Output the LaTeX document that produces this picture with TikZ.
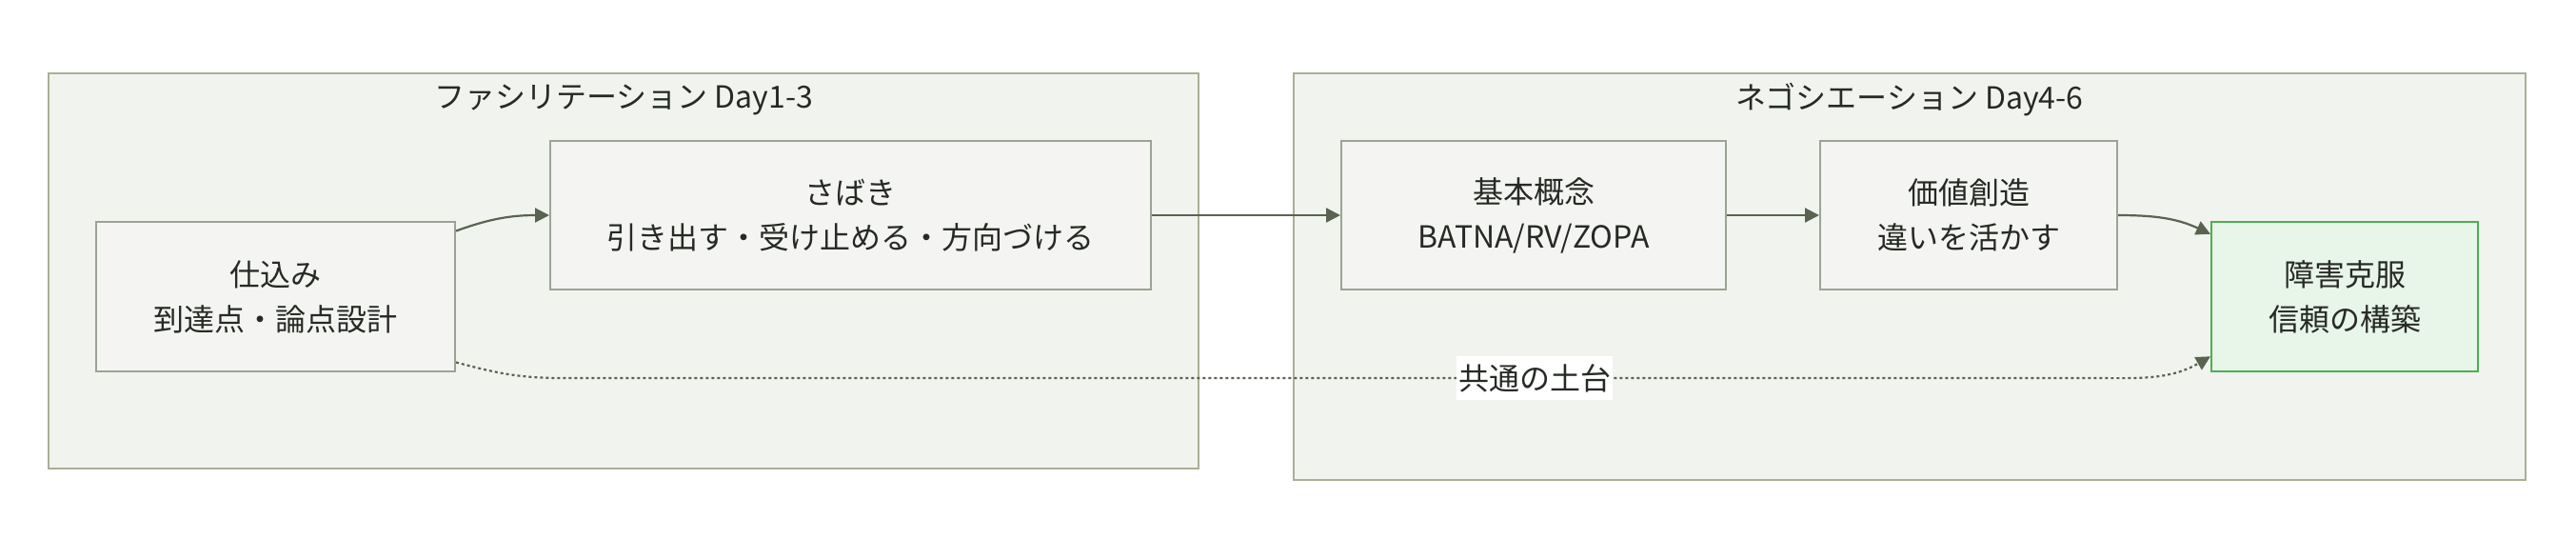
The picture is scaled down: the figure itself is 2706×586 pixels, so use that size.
\documentclass[tikz,border=0pt]{standalone}
\usepackage{fontspec}
\setmainfont{Noto Sans CJK JP}
\usepackage{xcolor}
\usepackage{tikz}
\usetikzlibrary{shapes, arrows.meta, positioning}

\definecolor{clusterfill}{HTML}{F1F4EE}
\definecolor{clusterline}{HTML}{A9AF98}
\definecolor{boxfill}{HTML}{F4F5F2}
\definecolor{boxline}{HTML}{9BA396}
\definecolor{edgecol}{HTML}{5A6352}
\definecolor{goalfill}{HTML}{E8F5E9}
\definecolor{goalline}{HTML}{4CAF50}
\definecolor{inkcol}{HTML}{262A25}

\begin{document}
\begin{tikzpicture}[x=0.5pt, y=-0.5pt, node distance=49pt,
        every node/.style={text=inkcol, font=\fontsize{16}{23.5}\selectfont},
        cluster/.style={draw=clusterline, fill=clusterfill, line width=1pt},
        stepbox/.style={draw=boxline, fill=boxfill, line width=1pt, align=center, minimum height=78pt},
        goalbox/.style={draw=goalline, fill=goalfill, line width=1pt, align=center, minimum height=78.5pt, minimum width=140pt},
        edge/.style={draw=edgecol, line width=1.1pt, -{Triangle[length=7.5pt, width=7.5pt]}},
        lbl/.style={fill=white, inner xsep=1pt, inner ysep=4pt}]
        \useasboundingbox[fill=white] (0,0) rectangle (2706,586);

        % the two phases
        \node (facil) [cluster, minimum width=604pt, minimum height=207.5pt] at (655,284.5) {};
        \node (facilT) at ([yshift=-14.5pt]facil.north) {ファシリテーション Day1-3};
        \node (nego) [cluster, minimum width=647pt, minimum height=213.5pt] at (2006,290.5) {};
        \node (negoT) at ([yshift=-14.5pt]nego.north) {ネゴシエーション Day4-6};

        % steps
        \node (shikomi) [stepbox, minimum width=188.5pt, minimum height=78.5pt] at (289.5,311.5) {仕込み\\到達点・論点設計};
        \node (sabaki) [stepbox, minimum width=315.5pt, right=of shikomi, yshift=42.75pt] {さばき\\引き出す・受け止める・方向づける};
        \node (kihon) [stepbox, minimum width=202pt, right=99pt of sabaki] {基本概念\\BATNA/RV/ZOPA};
        \node (kachi) [stepbox, minimum width=156pt, right=48.5pt of kihon] {価値創造\\違いを活かす};
        \node (shogai) [goalbox, right=48.5pt of kachi, yshift=-42.75pt] {障害克服\\信頼の構築};

        \draw[edge] (shikomi.20) to[out=20, in=180] (sabaki.west);
        \draw[edge] (sabaki) -- (kihon);
        \draw[edge] (kihon) -- (kachi);
        \draw[edge] (kachi.east) to[out=0, in=155] (shogai.155);

        % common ground
        \coordinate (baseA) at (590,397);
        \coordinate (baseB) at (2195,397);
        \draw[edge, dash pattern=on 1.5pt off 1.5pt] (shikomi.-20) to[out=-15, in=180] (baseA)
            -- node[lbl, pos=0.637] {共通の土台} (baseB) to[out=0, in=-150] (shogai.-156);
    \end{tikzpicture}
\end{document}
